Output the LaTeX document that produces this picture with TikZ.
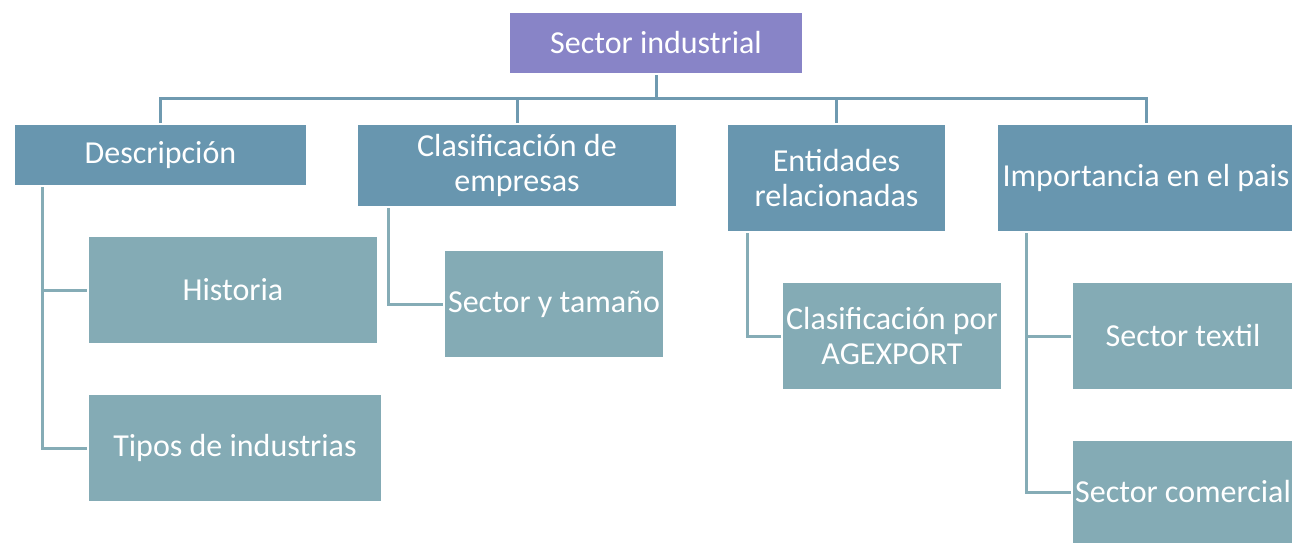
\documentclass[tikz,border=0pt]{standalone}
\usepackage{fontspec}
\setmainfont{Carlito}
\usetikzlibrary{backgrounds}
\definecolor{rootc}{HTML}{8884C7}
\definecolor{lvone}{HTML}{6896AF}
\definecolor{lvtwo}{HTML}{84ABB5}
\definecolor{lineone}{HTML}{6F9AB0}
\definecolor{linetwo}{HTML}{85ACB6}
\tikzset{
  base/.style={rectangle, draw=white, line width=2pt, text=white, align=center, inner sep=0pt,
    font=\fontsize{32}{35}\selectfont},
  rootbox/.style={base, fill=rootc},
  onebox/.style={base, fill=lvone},
  twobox/.style={base, fill=lvtwo},
  conone/.style={draw=lineone, line width=3pt},
  contwo/.style={draw=linetwo, line width=3pt},
}
\begin{document}
\begin{tikzpicture}[x=1pt, y=-1pt]
\useasboundingbox (0,0) rectangle (1292,543);
\node[rootbox, minimum width=294pt, minimum height=62pt] (root) at (656,43) {Sector industrial};
\node[onebox, minimum width=293pt, minimum height=62pt] (desc) at (160.5,155) {Descripción};
\node[onebox, minimum width=320pt, minimum height=83pt] (clas) at (517,165.5) {Clasificación de\\empresas};
\node[onebox, minimum width=219pt, minimum height=108pt] (ent) at (836.5,178) {Entidades\\relacionadas};
\node[onebox, minimum width=298pt, minimum height=108pt] (imp) at (1146,178) {Importancia en el pais};
\node[twobox, minimum width=290pt, minimum height=108pt] (hist) at (233,290) {Historia};
\node[twobox, minimum width=294pt, minimum height=108pt] (tipos) at (235,448) {Tipos de industrias};
\node[twobox, minimum width=220pt, minimum height=108pt] (syt) at (554,304) {Sector y tamaño};
\node[twobox, minimum width=220pt, minimum height=108pt] (agx) at (892,336) {Clasificación por\\AGEXPORT};
\node[twobox, minimum width=222pt, minimum height=108pt] (tex) at (1183,336) {Sector textil};
\node[twobox, minimum width=222pt, minimum height=104pt] (com) at (1183,492) {Sector comercial};
\coordinate (bus) at (0,98);
\coordinate (d0) at (42,186);
\coordinate (c0) at (388,207);
\coordinate (e0) at (747,232);
\coordinate (i0) at (1026,232);
\begin{pgfonlayer}{background}
\draw[conone] (root.south) -- (root.south |- bus);
\draw[conone] (desc.north) -- (desc.north |- bus) -- (imp.north |- bus) -- (imp.north);
\draw[conone] (clas.north) -- (clas.north |- bus);
\draw[conone] (ent.north) -- (ent.north |- bus);
\draw[contwo] (d0) |- (hist.west);
\draw[contwo] (d0) |- (tipos.west);
\draw[contwo] (c0) |- (syt.west);
\draw[contwo] (e0) |- (agx.west);
\draw[contwo] (i0) |- (tex.west);
\draw[contwo] (i0) |- (com.west);
\end{pgfonlayer}
\end{tikzpicture}
\end{document}
